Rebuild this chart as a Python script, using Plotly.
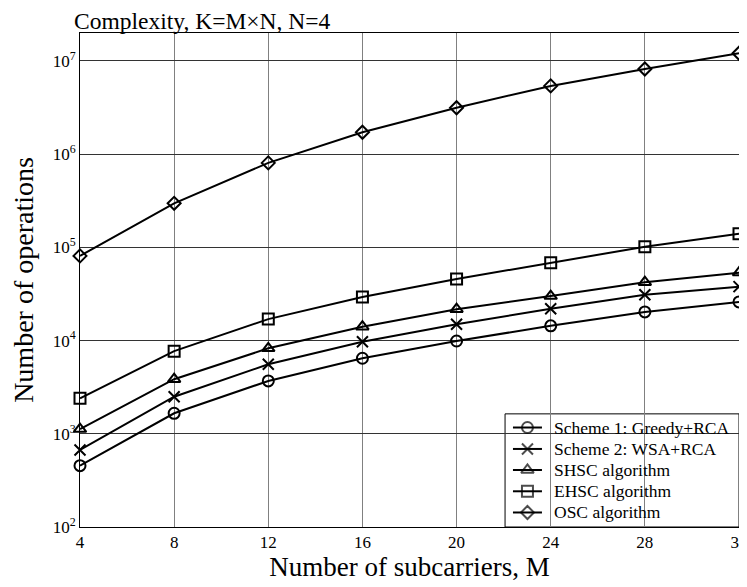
import plotly.graph_objects as go

M = [4, 8, 12, 16, 20, 24, 28, 32]
greedy = [455, 1660, 3690, 6460, 9900, 14400, 20300, 26000]
wsa = [670, 2500, 5570, 9730, 14960, 22000, 31000, 37900]
shsc = [1125, 3850, 8260, 14100, 21700, 30000, 42300, 53600]
ehsc = [2400, 7700, 17000, 29400, 45800, 68500, 101600, 140000]
osc = [81000, 297000, 806000, 1720000, 3150000, 5400000, 8200000, 12100000]

names = ["Scheme 1: Greedy+RCA", "Scheme 2: WSA+RCA", "SHSC algorithm",
         "EHSC algorithm", "OSC algorithm"]
series = [greedy, wsa, shsc, ehsc, osc]
symbols = ["circle-open", "x-thin-open", "triangle-up-open", "square-open", "diamond-open"]
sizes = [11, 11, 11, 11, 10]

ytickvals = [1e2, 1e3, 1e4, 1e5, 1e6, 1e7]
yticktext = ["10<sup>2</sup>", "10<sup>3</sup>", "10<sup>4</sup>", "10<sup>5</sup>",
             "10<sup>6</sup>", "10<sup>7</sup>"]

FONT = "Liberation Serif"

fig = go.Figure()
for n, s, sym, sz in zip(names, series, symbols, sizes):
    fig.add_trace(go.Scatter(
        x=M, y=s, name=n, mode="lines+markers", showlegend=False,
        line=dict(color="black", width=2),
        marker=dict(symbol=sym, size=sz, color="black",
                    line=dict(color="black", width=2)),
        cliponaxis=False,
    ))

# manual legend (in overlay axes with 0..1 range over the plot area)
leg_x0, leg_x1, leg_y0, leg_y1 = 0.645, 1.0, 0.0, 0.229
row_y = [0.2014, 0.158, 0.1154, 0.0723, 0.0294]
line_x = [0.657, 0.679, 0.701]
text_x = 0.716
fig.add_shape(type="rect", xref="paper", yref="paper", x0=leg_x0, x1=leg_x1, y0=leg_y0, y1=leg_y1,
              line=dict(color="black", width=1), fillcolor="white", layer="between")
annotations = []
for n, sym, sz, ry in zip(names, symbols, sizes, row_y):
    fig.add_trace(go.Scatter(
        x=line_x, y=[ry] * 3, xaxis="x2", yaxis="y2", mode="lines+markers",
        showlegend=False, hoverinfo="skip",
        line=dict(color="black", width=2),
        marker=dict(symbol=sym, size=[0, sz, 0], color="black",
                    line=dict(color="black", width=2)),
    ))
    annotations.append(dict(text=n, x=text_x, y=ry, xref="paper", yref="paper",
                            xanchor="left", yanchor="middle", showarrow=False,
                            font=dict(size=17.5, family=FONT, color="black")))

annotations.append(dict(text="Complexity, K=M\u00d7N, N=4", x=0, y=1,
                        xref="paper", yref="paper", xanchor="left", yanchor="bottom",
                        xshift=-8, yshift=-3, showarrow=False,
                        font=dict(size=23.5, family=FONT, color="black")))

fig.update_layout(
    width=739, height=579,
    margin=dict(l=72, r=8, t=25, b=60),
    plot_bgcolor="white", paper_bgcolor="white",
    font=dict(family=FONT, color="black", size=16),
    showlegend=False,
    annotations=annotations,
    xaxis=dict(
        range=[4, 32], tickvals=M, ticks="", showline=True, linecolor="black",
        linewidth=1, mirror=True, showgrid=True, gridcolor="#808080", gridwidth=1,
        zeroline=False, tickfont=dict(size=17, family=FONT, color="black"), automargin=False,
        ticklabeloverflow="allow",
        title=dict(text="Number of subcarriers, M",
                   font=dict(size=27, family=FONT, color="black"), standoff=5),
    ),
    yaxis=dict(
        type="log", range=[2, 7.3], tickvals=ytickvals, ticktext=yticktext, ticks="",
        showline=True, linecolor="black", linewidth=1, mirror=True,
        showgrid=True, gridcolor="#333333", gridwidth=1, zeroline=False,
        tickfont=dict(size=17, family=FONT, color="black"), automargin=False,
        title=dict(text="Number of operations",
                   font=dict(size=28, family=FONT, color="black"), standoff=16),
    ),
    xaxis2=dict(overlaying="x", range=[0, 1], visible=False, anchor="y2",
                showgrid=False, zeroline=False),
    yaxis2=dict(overlaying="y", range=[0, 1], visible=False, anchor="x2",
                showgrid=False, zeroline=False),
)
fig.write_html("out.html")
